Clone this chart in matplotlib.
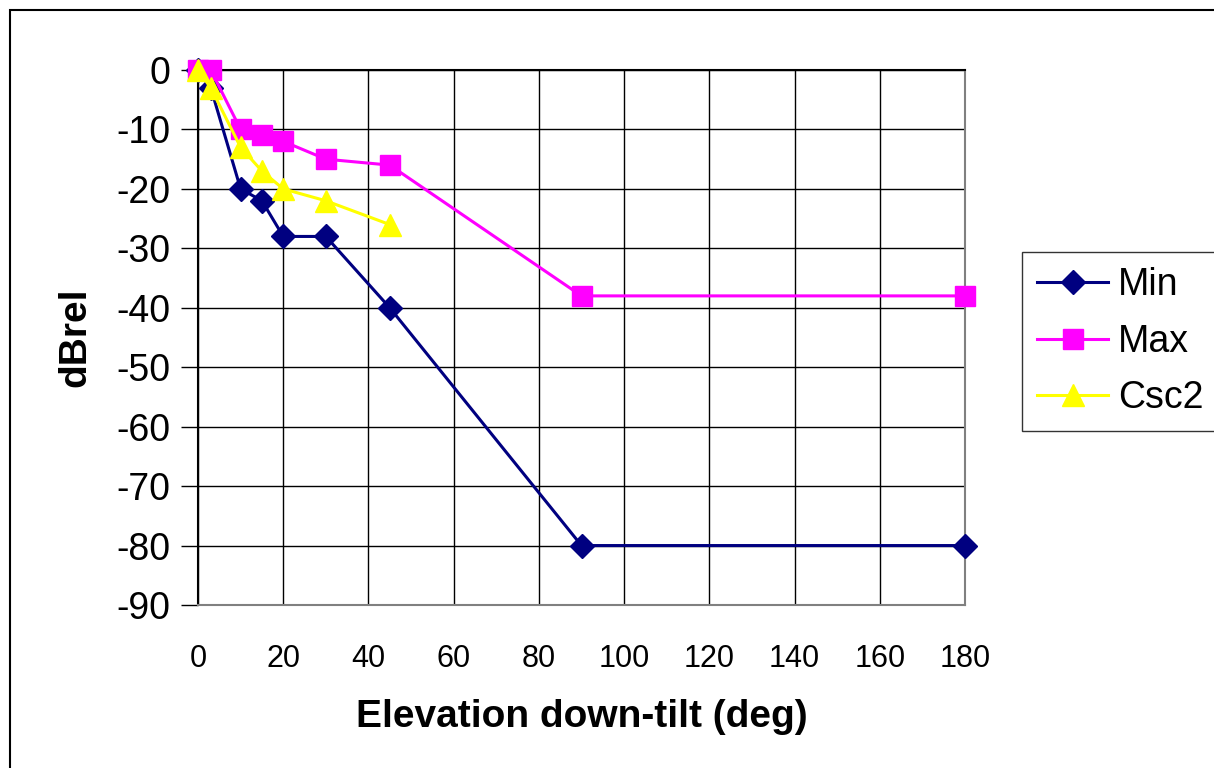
import matplotlib
matplotlib.use('Agg')
import matplotlib.pyplot as plt
from matplotlib.patches import Rectangle

plt.rcParams['font.family'] = ['Liberation Sans', 'DejaVu Sans']
plt.rcParams['axes.unicode_minus'] = False

# Series
min_x = [0, 3, 10, 15, 20, 30, 45, 90, 180]
min_y = [0, -3, -20, -22, -28, -28, -40, -80, -80]
max_x = [0, 3, 10, 15, 20, 30, 45, 90, 180]
max_y = [0, 0, -10, -11, -12, -15, -16, -38, -38]
csc_x = [0, 3, 10, 15, 20, 30, 45]
csc_y = [0, -3, -13, -17, -20, -22, -26]

x_ticks = list(range(0, 181, 20))
y_ticks = list(range(-90, 1, 10))

W, H = 1214, 768
fig = plt.figure(figsize=(W / 100, H / 100), dpi=100)

# outer chart frame (runs past the right and bottom edges)
fig.patches.append(Rectangle((10 / W, -0.1), 1.2, 1 - 10 / H + 0.1,
                             transform=fig.transFigure, fill=False,
                             edgecolor='black', linewidth=1.5))

ax = fig.add_axes((198 / W, 1 - 605 / H, (965 - 198) / W, (605 - 70) / H))

ax.plot(min_x, min_y, color='#000080', marker='D', markersize=12, lw=2.2, label='Min', clip_on=False, zorder=3)
ax.plot(max_x, max_y, color='#FF00FF', marker='s', markersize=14, lw=2.2, label='Max', clip_on=False, zorder=4)
ax.plot(csc_x, csc_y, color='#FFFF00', marker='^', markersize=16, lw=2.2, label='Csc2', clip_on=False, zorder=5)

ax.set_xlim(0, 180)
ax.set_ylim(-90, 0)
ax.set_xticks(x_ticks)
ax.set_yticks(y_ticks)
ax.grid(True, color='black', linewidth=1.0)
ax.set_axisbelow(True)

ax.tick_params(axis='y', direction='out', length=12, width=1, labelsize=27, pad=8)
ax.tick_params(axis='x', length=0, labelsize=22, pad=28)

ax.spines['left'].set_color('black')
ax.spines['top'].set_color('black')
ax.spines['right'].set_color('#808080')
ax.spines['bottom'].set_color('#808080')
for s in ax.spines.values():
    s.set_linewidth(1.5)

ax.set_xlabel('Elevation down-tilt (deg)', fontsize=28, fontweight='bold', labelpad=18)
ax.set_ylabel('dBrel', fontsize=28, fontweight='bold', labelpad=16)

leg = ax.legend(loc='upper left', bbox_to_anchor=(1022 / W, 1 - 252 / H),
                bbox_transform=fig.transFigure, fontsize=27, frameon=True,
                fancybox=False, edgecolor='black', handlelength=1.9,
                borderpad=0.4, labelspacing=0.55, handletextpad=0.25,
                borderaxespad=0)
leg.get_frame().set_linewidth(1.0)

fig.savefig('out.png', dpi=100)
